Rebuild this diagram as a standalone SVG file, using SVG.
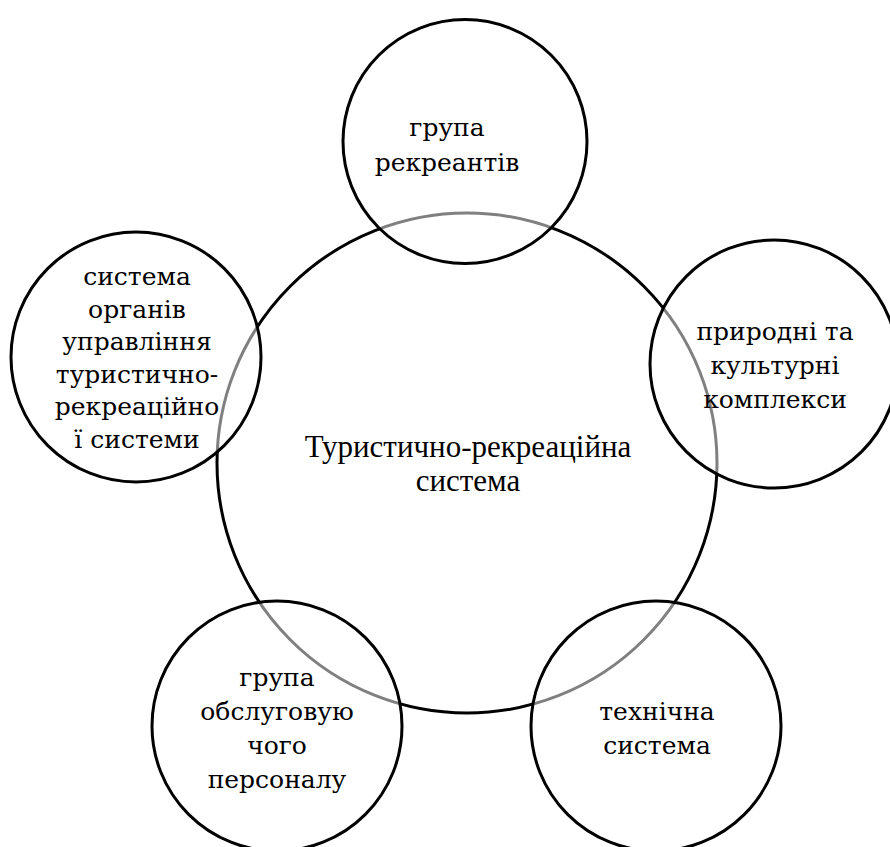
<svg xmlns="http://www.w3.org/2000/svg" width="890" height="847" viewBox="0 0 890 847">
<style>
.big{fill:#ffffff;stroke:#000000;stroke-width:3}
.sat{fill:#ffffff;fill-opacity:0.5;stroke:#000000;stroke-width:3}
.t{font-family:"Liberation Serif","Times New Roman",serif;font-size:31px;fill:#000000;text-anchor:middle}
.s{font-family:"DejaVu Serif",serif;font-size:25px;fill:#000000;text-anchor:middle}
</style>
<rect width="890" height="847" fill="#ffffff"/>
<g id="connectors"/>
<g id="center-node">
<circle class="big" cx="467" cy="463" r="250"/>
<text class="t" x="468" y="457">Туристично-рекреаційна</text>
<text class="t" x="468" y="491">система</text>
</g>
<g id="node-top">
<circle class="sat" cx="465" cy="141.5" r="122"/>
<text class="s" x="447" y="136">група</text>
<text class="s" x="447" y="171">рекреантів</text>
</g>
<g id="node-right">
<circle class="sat" cx="774" cy="364" r="124"/>
<text class="s" x="775" y="340">природні та</text>
<text class="s" x="775" y="374">культурні</text>
<text class="s" x="775" y="408">комплекси</text>
</g>
<g id="node-left">
<circle class="sat" cx="136" cy="357" r="125"/>
<text class="s" x="137" y="285">система</text>
<text class="s" x="137" y="317.6">органів</text>
<text class="s" x="137" y="350.2">управління</text>
<text class="s" x="137" y="382.8">туристично-</text>
<text class="s" x="137" y="415.4">рекреаційно</text>
<text class="s" x="137" y="448">ї системи</text>
</g>
<g id="node-bottom-left">
<circle class="sat" cx="277" cy="726" r="125"/>
<text class="s" x="277" y="686">група</text>
<text class="s" x="277" y="720">обслуговую</text>
<text class="s" x="277" y="754">чого</text>
<text class="s" x="277" y="788">персоналу</text>
</g>
<g id="node-bottom-right">
<circle class="sat" cx="656" cy="726" r="125"/>
<text class="s" x="657" y="720">технічна</text>
<text class="s" x="657" y="754">система</text>
</g>
</svg>
